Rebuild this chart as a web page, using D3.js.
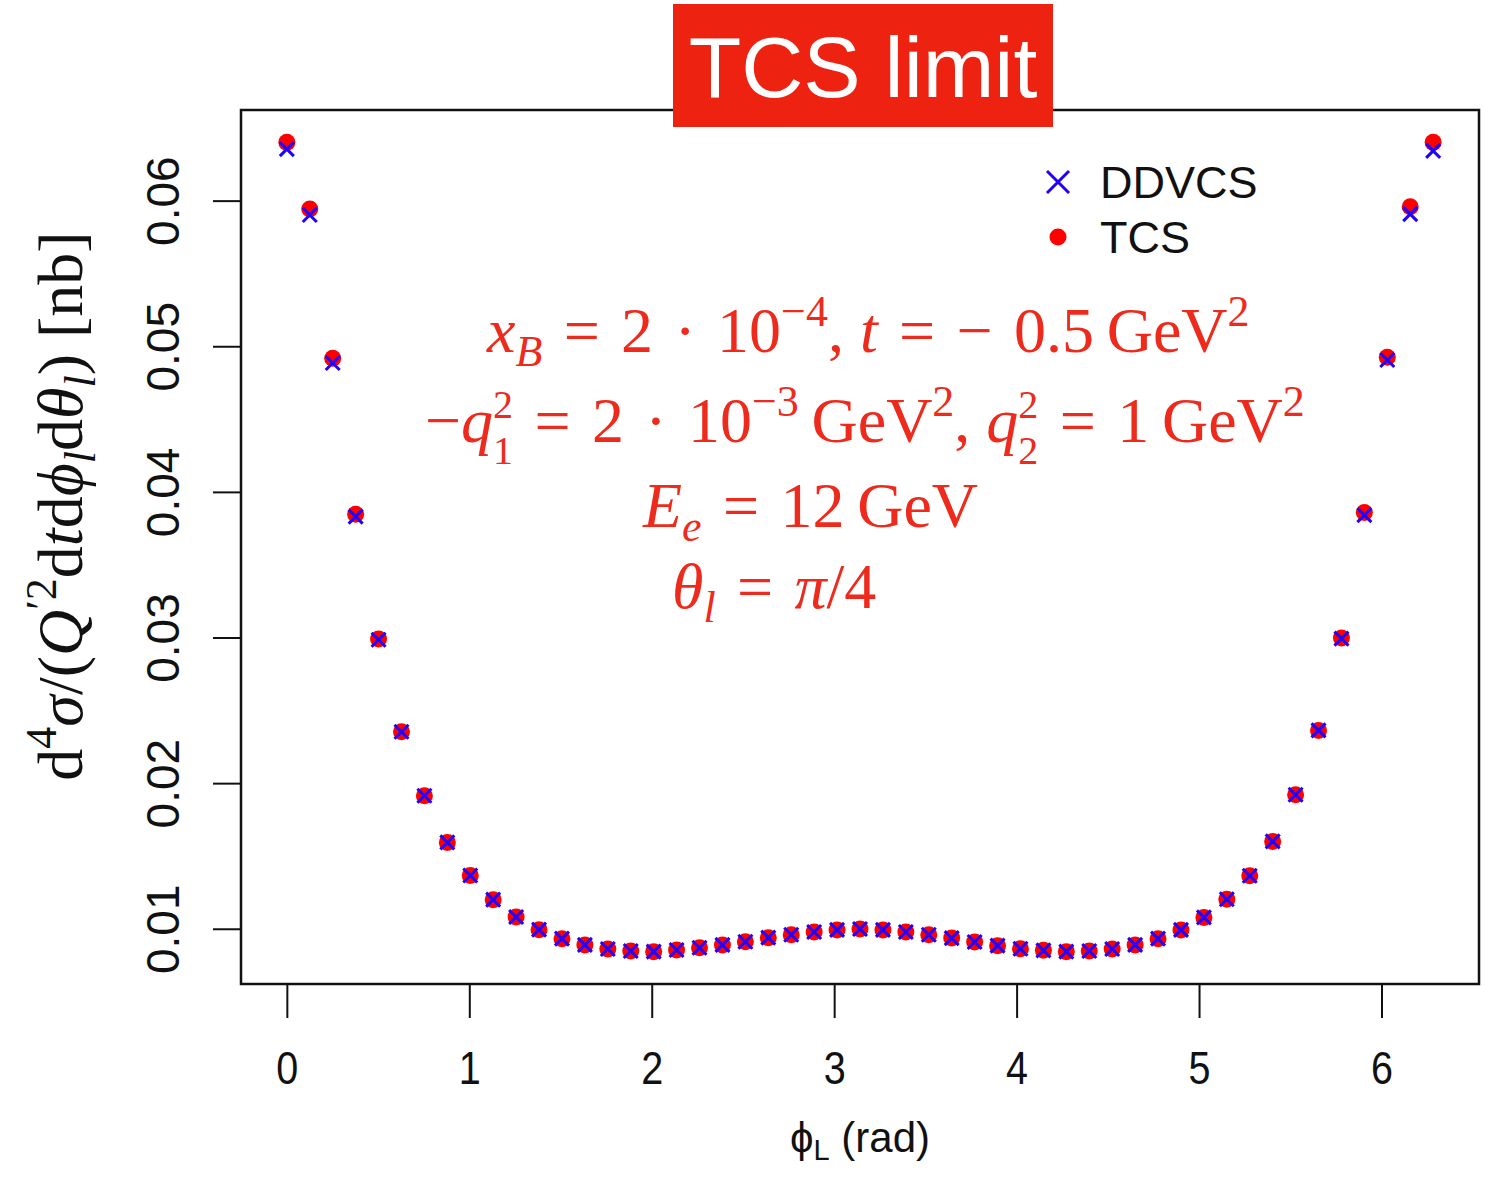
<!DOCTYPE html>
<html>
<head>
<meta charset="utf-8">
<script src="https://cdn.jsdelivr.net/npm/d3@7"></script>
<style>
  html, body { margin: 0; padding: 0; background: #fff; }
  svg { display: block; }
  .tick-label { font-family: "Liberation Sans", Arial, Helvetica, sans-serif; fill: #111; }
  .serif { font-family: "Liberation Serif", "Times New Roman", serif; }
</style>
</head>
<body>
<svg id="chart" width="1485" height="1182"></svg>
<script>
// Azimuthal angle grid: 51 points over [0, 2π]
const phiL = d3.range(51).map(i => i * 2 * Math.PI / 50);

// Cross sections [nb] for the TCS limit
const tcsValues = [
  0.06400, 0.05942, 0.04917, 0.03847, 0.02989, 0.02353, 0.01913, 0.01593, 0.01366, 0.01200,
  0.01081, 0.00994, 0.00932, 0.00889, 0.00861, 0.00847, 0.00843, 0.00854, 0.00870, 0.00889,
  0.00911, 0.00939, 0.00959, 0.00978, 0.00992, 0.00998, 0.00992, 0.00978, 0.00959, 0.00936,
  0.00909, 0.00884, 0.00863, 0.00852, 0.00843, 0.00847, 0.00861, 0.00889, 0.00932, 0.00992,
  0.01078, 0.01203, 0.01364, 0.01600, 0.01920, 0.02362, 0.02996, 0.03858, 0.04925, 0.05958,
  0.06400
];
const ddvcsValues = [
  0.06354, 0.05901, 0.04885, 0.03830, 0.02985, 0.02353, 0.01913, 0.01593, 0.01366, 0.01200,
  0.01081, 0.00994, 0.00932, 0.00889, 0.00861, 0.00847, 0.00843, 0.00854, 0.00870, 0.00889,
  0.00911, 0.00939, 0.00959, 0.00978, 0.00992, 0.00998, 0.00992, 0.00978, 0.00959, 0.00936,
  0.00909, 0.00884, 0.00863, 0.00852, 0.00843, 0.00847, 0.00861, 0.00889, 0.00932, 0.00992,
  0.01078, 0.01203, 0.01364, 0.01600, 0.01920, 0.02362, 0.02992, 0.03840, 0.04906, 0.05907,
  0.06342
];

const xTicks = [0, 1, 2, 3, 4, 5, 6];
const yTicks = [0.01, 0.02, 0.03, 0.04, 0.05, 0.06];
const seriesNames = ["DDVCS", "TCS"];

const svg = d3.select("#chart");
const red = "#ff0000";
const blue = "#2200ff";
const annotRed = "#ee2a1c";

// Plot region (R style: limits padded by 4% of data range)
const box = { left: 241, right: 1479, top: 110, bottom: 984 };
const xMin = 0, xMax = 2 * Math.PI;
const xPad = 0.04 * (xMax - xMin);
const yAll = tcsValues.concat(ddvcsValues);
const yLo = d3.min(yAll), yHi = d3.max(yAll);
const yPad = 0.04 * (yHi - yLo);

const x = d3.scaleLinear().domain([xMin - xPad, xMax + xPad]).range([box.left, box.right]);
const y = d3.scaleLinear().domain([yLo - yPad, yHi + yPad]).range([box.bottom, box.top]);

// Frame
svg.append("rect")
  .attr("x", box.left).attr("y", box.top)
  .attr("width", box.right - box.left).attr("height", box.bottom - box.top)
  .attr("fill", "none").attr("stroke", "#111").attr("stroke-width", 2.5);

// X axis
const xAxis = d3.axisBottom(x).tickValues(xTicks).tickSize(34).tickFormat(d3.format("d"));
const gx = svg.append("g").attr("transform", `translate(0,${box.bottom})`).call(xAxis);
gx.select(".domain").remove();
gx.selectAll(".tick line").attr("stroke", "#111").attr("stroke-width", 2);
gx.selectAll(".tick text")
  .attr("class", "tick-label")
  .attr("font-size", 46)
  .attr("y", 0).attr("dy", 0)
  .attr("transform", "translate(0,100) scale(0.86,1)");

// Y axis
const yAxis = d3.axisLeft(y).tickValues(yTicks).tickSize(28).tickFormat(d3.format(".2f"));
const gy = svg.append("g").attr("transform", `translate(${box.left},0)`).call(yAxis);
gy.select(".domain").remove();
gy.selectAll(".tick line").attr("stroke", "#111").attr("stroke-width", 2);
gy.selectAll(".tick text")
  .attr("class", "tick-label")
  .attr("font-size", 46)
  .attr("x", 0).attr("dy", 0)
  .attr("text-anchor", "middle")
  .attr("transform", "translate(-62,0) rotate(-90)");

// Points: TCS dots underneath, DDVCS crosses on top
svg.append("g").selectAll("circle")
  .data(phiL.map((p, i) => [p, tcsValues[i]]))
  .join("circle")
  .attr("cx", d => x(d[0])).attr("cy", d => y(d[1]))
  .attr("r", 8.5).attr("fill", red);

const cross = (sel, s) => sel.attr("d", `M${-s},${-s}L${s},${s}M${-s},${s}L${s},${-s}`);
svg.append("g").selectAll("path")
  .data(phiL.map((p, i) => [p, ddvcsValues[i]]))
  .join("path")
  .call(cross, 7)
  .attr("transform", d => `translate(${x(d[0])},${y(d[1])})`)
  .attr("stroke", blue).attr("stroke-width", 3).attr("fill", "none");

// Legend
const legend = svg.append("g");
legend.append("path").call(cross, 11)
  .attr("transform", "translate(1058,182)")
  .attr("stroke", blue).attr("stroke-width", 3).attr("fill", "none");
legend.append("circle").attr("cx", 1058).attr("cy", 237).attr("r", 8.5).attr("fill", red);
legend.selectAll("text.leg")
  .data(seriesNames)
  .join("text")
  .attr("class", "tick-label")
  .attr("x", 1100).attr("y", (d, i) => 198 + i * 55)
  .attr("font-size", 45)
  .text(d => d);

// Axis titles
const xt = svg.append("text").attr("class", "tick-label")
  .attr("x", 860).attr("y", 1152).attr("text-anchor", "middle").attr("font-size", 42);
xt.append("tspan").text("\u03D5");
xt.append("tspan").attr("font-size", 29).attr("dy", 8).text("L");
xt.append("tspan").attr("dy", -8).text(" (rad)");

const yt = svg.append("text").attr("class", "serif")
  .attr("transform", "translate(82,506) rotate(-90)")
  .attr("text-anchor", "middle").attr("font-size", 64).attr("fill", "#111");
yt.append("tspan").text("d");
yt.append("tspan").attr("font-size", 44).attr("dy", -26).text("4");
yt.append("tspan").attr("dy", 26).attr("font-style", "italic").text("\u03C3");
yt.append("tspan").text("/(");
yt.append("tspan").attr("font-style", "italic").text("Q");
yt.append("tspan").attr("font-size", 44).attr("dy", -26).text("\u20322");
yt.append("tspan").attr("dy", 26).text("d");
yt.append("tspan").attr("font-style", "italic").text("t");
yt.append("tspan").text("d");
yt.append("tspan").attr("font-style", "italic").text("\u03D5");
yt.append("tspan").attr("font-size", 44).attr("font-style", "italic").attr("dy", 13).text("l");
yt.append("tspan").attr("dy", -13).text("d");
yt.append("tspan").attr("font-style", "italic").text("\u03B8");
yt.append("tspan").attr("font-size", 44).attr("font-style", "italic").attr("dy", 13).text("l");
yt.append("tspan").attr("dy", -13).text(") [nb]");

// Kinematic annotations
const annot = svg.append("g").attr("class", "serif").attr("fill", annotRed).attr("font-size", 64);
const sp = "\u2004"; // thicker space around relations
function line(x0, y0, parts) {
  const t = annot.append("text").attr("x", x0).attr("y", y0);
  let shift = 0;
  parts.forEach(p => {
    // stacked scripts (sup over sub) sit a bit further apart
    const target = p.sup ? (p.stack ? -24 : -26) : p.sub ? (p.stack ? 22 : 14) : 0;
    const ts = t.append("tspan").attr("dy", target - shift).text(p.t);
    shift = target;
    if (p.i) ts.attr("font-style", "italic");
    if (p.sup || p.sub) ts.attr("font-size", p.stack ? 40 : 44);
    if (p.back) ts.attr("dx", -p.back);
  });
}
line(487, 352, [
  { t: "x", i: 1 }, { t: "B", i: 1, sub: 1 }, { t: `${sp}=${sp}2${sp}\u00B7${sp}10` }, { t: "\u22124", sup: 1 },
  { t: ", " }, { t: "t", i: 1 }, { t: `${sp}=${sp}\u2212${sp}0.5\u2009GeV` }, { t: "2", sup: 1 }
]);
line(425, 442, [
  { t: "\u2212" }, { t: "q", i: 1 }, { t: "2", sup: 1, stack: 1 }, { t: "1", sub: 1, stack: 1, back: 20 },
  { t: `${sp}=${sp}2${sp}\u00B7${sp}10` }, { t: "\u22123", sup: 1 },
  { t: "\u2009GeV" }, { t: "2", sup: 1 }, { t: ", " }, { t: "q", i: 1 },
  { t: "2", sup: 1, stack: 1 }, { t: "2", sub: 1, stack: 1, back: 20 },
  { t: `${sp}=${sp}1\u2009GeV` }, { t: "2", sup: 1 }
]);
line(643, 527, [
  { t: "E", i: 1 }, { t: "e", i: 1, sub: 1 }, { t: `${sp}=${sp}12\u2009GeV` }
]);
line(672, 608, [
  { t: "\u03B8", i: 1 }, { t: "l", i: 1, sub: 1 }, { t: `${sp}=${sp}` }, { t: "\u03C0", i: 1 }, { t: "/4" }
]);

// Title badge
svg.append("rect").attr("x", 673).attr("y", 4).attr("width", 380).attr("height", 123).attr("fill", "#ee2210");
svg.append("text").attr("class", "tick-label")
  .attr("x", 863).attr("y", 97).attr("text-anchor", "middle")
  .attr("font-size", 86).attr("fill", "#fff").style("fill", "#fff")
  .text("TCS limit");
</script>
</body>
</html>
